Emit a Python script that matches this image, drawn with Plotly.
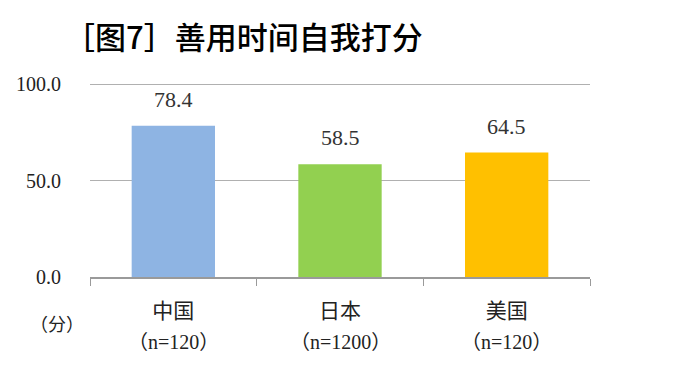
import plotly.graph_objects as go

categories = ["中国", "日本", "美国"]
sample_sizes = ["（n=120）", "（n=1200）", "（n=120）"]
scores = [78.4, 58.5, 64.5]
colors = ["#8EB4E3", "#92D050", "#FFC000"]
y_ticks = [0, 50, 100]
y_tick_labels = ["0.0", "50.0", "100.0"]

FONT = "Liberation Serif, Noto Sans CJK SC, serif"

fig = go.Figure()
fig.add_trace(go.Bar(
    x=categories,
    y=scores,
    marker=dict(color=colors, line=dict(width=0)),
    width=0.5,
))

for cat, v in zip(categories, scores):
    fig.add_annotation(x=cat, y=v, xref="x", yref="y", text=f"{v:.1f}",
                       showarrow=False, yanchor="bottom", yshift=12,
                       font=dict(family=FONT, size=22, color="#333333"))

for cat, n in zip(categories, sample_sizes):
    fig.add_annotation(x=cat, y=0, xref="x", yref="paper", text=n,
                       showarrow=False, yanchor="middle", yshift=-65,
                       font=dict(family=FONT, size=20, color="#222222"))

fig.add_annotation(x=0, y=0, xref="paper", yref="paper", text="（分）",
                   showarrow=False, xanchor="center", yanchor="middle",
                   xshift=-33, yshift=-48,
                   font=dict(family=FONT, size=18, color="#222222"))

fig.update_layout(
    width=672, height=382, autosize=False,
    margin=dict(l=82, r=90, t=75, b=113, autoexpand=False),
    plot_bgcolor="white", paper_bgcolor="white",
    showlegend=False,
    title=dict(text="［图7］善用时间自我打分", x=56 / 672, xref="container", xanchor="left",
               y=1 - 30 / 382, yref="container", yanchor="middle",
               font=dict(family="Noto Sans CJK SC", size=31, color="#000000", weight=500)),
    xaxis=dict(
        showline=True, linecolor="#9a9a9a", linewidth=1.5,
        ticks="outside", tickson="boundaries", ticklen=7, tickcolor="#9a9a9a",
        ticklabelstandoff=14,
        tickfont=dict(family=FONT, size=21, color="#222222"),
        showgrid=False,
    ),
    yaxis=dict(
        range=[0, 100.6], tickvals=y_ticks, ticktext=y_tick_labels,
        showgrid=True, gridcolor="#b0b0b0", gridwidth=1.2,
        zeroline=False, showline=False, ticks="", ticklabelstandoff=28,
        tickfont=dict(family=FONT, size=20, color="#222222"),
    ),
)

fig.write_html("out.html")
